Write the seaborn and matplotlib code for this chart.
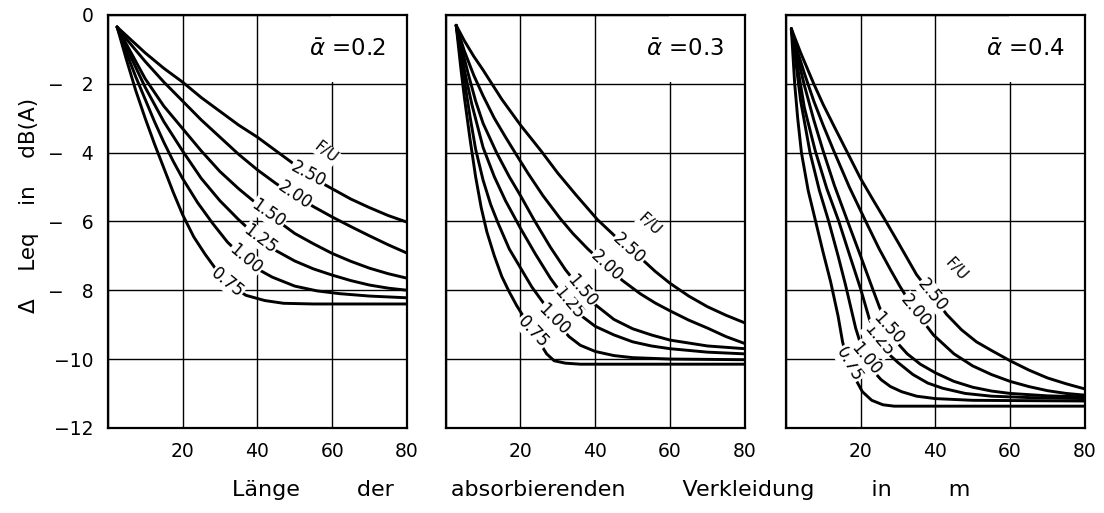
import numpy as np
import pandas as pd
import matplotlib.pyplot as plt
from matplotlib.patches import Rectangle
import seaborn as sns

# === DATA ===
fu_values = ["0.75", "1.00", "1.25", "1.50", "2.00", "2.50"]
alpha_values = ["0.2", "0.3", "0.4"]

# alpha = 0.2
curves_a02 = {
    "0.75": ([2.5, 5, 7.5, 10, 12.5, 15, 17.5, 20, 23, 26, 30, 33, 37, 42, 47, 55, 80],
             [-0.35, -1.3, -2.2, -3.0, -3.75, -4.45, -5.15, -5.8, -6.45, -6.95, -7.55, -7.88, -8.15, -8.3, -8.38, -8.4, -8.4]),
    "1.00": ([2.5, 5, 7.5, 10, 12.5, 15, 17.5, 20, 24, 28, 32, 36, 40, 44, 50, 56, 62, 70, 80],
             [-0.35, -1.1, -1.8, -2.45, -3.1, -3.7, -4.25, -4.75, -5.45, -6.05, -6.6, -7.02, -7.38, -7.62, -7.88, -8.02, -8.1, -8.17, -8.22]),
    "1.25": ([2.5, 5, 10, 15, 20, 25, 30, 35, 40, 45, 50, 55, 60, 65, 70, 75, 80],
             [-0.35, -0.95, -2.1, -3.1, -3.95, -4.75, -5.4, -5.95, -6.45, -6.85, -7.15, -7.38, -7.56, -7.72, -7.85, -7.94, -8.0]),
    "1.50": ([2.5, 5, 10, 15, 20, 25, 30, 35, 40, 45, 50, 55, 60, 65, 70, 75, 80],
             [-0.35, -0.85, -1.85, -2.65, -3.3, -3.95, -4.55, -5.05, -5.5, -5.95, -6.35, -6.65, -6.93, -7.16, -7.36, -7.52, -7.65]),
    "2.00": ([2.5, 5, 10, 15, 20, 25, 30, 35, 40, 45, 50, 55, 60, 65, 70, 75, 80],
             [-0.35, -0.7, -1.35, -1.95, -2.5, -3.05, -3.55, -4.05, -4.5, -4.9, -5.25, -5.57, -5.87, -6.15, -6.42, -6.68, -6.92]),
    "2.50": ([2.5, 5, 10, 15, 20, 25, 30, 35, 40, 45, 50, 55, 60, 65, 70, 75, 80],
             [-0.35, -0.6, -1.1, -1.55, -1.95, -2.4, -2.8, -3.2, -3.55, -3.95, -4.35, -4.75, -5.05, -5.35, -5.6, -5.83, -6.02]),
}

# alpha = 0.3
curves_a03 = {
    "0.75": ([2.8, 4, 5, 6.5, 8, 9.5, 11, 13, 15, 17, 19, 21, 23, 25, 27, 29, 32, 36, 80],
             [-0.3, -1.5, -2.4, -3.6, -4.7, -5.6, -6.3, -7.0, -7.6, -8.05, -8.45, -8.8, -9.15, -9.5, -9.85, -10.05, -10.12, -10.15, -10.15]),
    "1.00": ([2.8, 4, 5, 6.5, 8, 10, 12, 14, 17, 20, 23, 26, 29, 33, 36, 40, 45, 50, 60, 80],
             [-0.3, -1.2, -1.9, -2.95, -3.9, -4.8, -5.5, -6.05, -6.8, -7.35, -7.9, -8.35, -8.85, -9.35, -9.6, -9.78, -9.9, -9.96, -10.0, -10.02]),
    "1.25": ([2.8, 4, 5, 7, 10, 13, 16, 20, 24, 28, 32, 36, 40, 45, 50, 55, 60, 70, 80],
             [-0.3, -1.0, -1.6, -2.6, -3.85, -4.7, -5.4, -6.2, -6.95, -7.65, -8.25, -8.72, -9.05, -9.3, -9.5, -9.62, -9.7, -9.8, -9.85]),
    "1.50": ([2.8, 4, 6, 8, 10, 13.6, 17, 20, 23.6, 28, 32, 36, 40, 45, 50, 55, 60, 70, 80],
             [-0.3, -0.85, -1.7, -2.5, -3.15, -4.0, -4.7, -5.25, -5.95, -6.75, -7.4, -7.95, -8.42, -8.85, -9.12, -9.3, -9.45, -9.62, -9.7]),
    "2.00": ([2.8, 5, 7.5, 10, 13, 16, 19, 22, 26, 30.5, 34, 38, 43, 47.3, 52, 56, 60, 65, 70, 75, 80],
             [-0.3, -1.05, -1.75, -2.35, -3.0, -3.55, -4.08, -4.6, -5.25, -5.9, -6.35, -6.8, -7.3, -7.72, -8.1, -8.37, -8.6, -8.87, -9.1, -9.35, -9.55]),
    "2.50": ([2.8, 5, 7.5, 10, 15, 20, 25.5, 30, 35, 40.6, 45, 49, 53.3, 56, 60, 65, 70, 75, 80],
             [-0.3, -0.75, -1.2, -1.6, -2.45, -3.2, -3.95, -4.6, -5.25, -5.95, -6.4, -6.8, -7.18, -7.45, -7.8, -8.17, -8.48, -8.73, -8.95]),
}

# alpha = 0.4
curves_a04 = {
    "0.75": ([1.5, 2.4, 3.2, 4.2, 6, 8, 10, 12, 14, 15.2, 16.5, 18.5, 20.5, 23, 26, 29, 80],
             [-0.4, -2.0, -3.0, -4.0, -5.1, -6.0, -6.9, -7.75, -8.75, -9.5, -10.05, -10.55, -10.95, -11.2, -11.33, -11.37, -11.37]),
    "1.00": ([1.5, 2.5, 4, 6.5, 9, 11.5, 14, 16, 18.7, 21, 23, 25.5, 28, 31, 35, 40, 50, 80],
             [-0.4, -1.2, -2.5, -4.0, -5.1, -6.0, -7.0, -7.85, -9.1, -9.9, -10.3, -10.6, -10.8, -10.95, -11.08, -11.15, -11.2, -11.22]),
    "1.25": ([1.5, 3, 5, 7.9, 11, 14.2, 17, 20, 22.4, 25, 27.5, 30, 34, 38, 42, 48, 55, 65, 80],
             [-0.4, -1.4, -2.7, -3.95, -5.05, -6.0, -6.95, -7.95, -8.85, -9.5, -9.85, -10.1, -10.45, -10.7, -10.85, -11.0, -11.08, -11.12, -11.15]),
    "1.50": ([1.5, 3, 5, 7.5, 10, 13, 16.9, 20, 23.2, 25.1, 27.5, 30, 32.5, 36, 40, 45, 50, 55, 60, 70, 80],
             [-0.4, -1.15, -2.05, -3.05, -3.95, -4.95, -6.1, -7.0, -7.95, -8.5, -9.1, -9.55, -9.85, -10.15, -10.4, -10.65, -10.82, -10.93, -11.0, -11.07, -11.1]),
    "2.00": ([1.5, 3, 5, 7.5, 10, 12.85, 17, 21.4, 25, 28, 30.5, 34.6, 39.5, 45, 50, 55, 60, 65, 70, 75, 80],
             [-0.4, -1.0, -1.7, -2.5, -3.2, -3.95, -5.0, -6.0, -6.8, -7.4, -7.88, -8.6, -9.3, -9.85, -10.2, -10.45, -10.65, -10.8, -10.92, -11.0, -11.05]),
    "2.50": ([1.5, 4, 7.5, 10, 13, 16.5, 20, 23.5, 26.8, 30, 35, 39.3, 43, 47, 51, 55, 60, 65, 70, 75, 80],
             [-0.4, -1.1, -2.0, -2.6, -3.25, -4.0, -4.75, -5.4, -6.0, -6.6, -7.55, -8.15, -8.7, -9.15, -9.5, -9.75, -10.05, -10.32, -10.55, -10.72, -10.87]),
}

# label placement along the curves (x position on curve, rotation)
label_x = {
    "0.2": [32, 36.9, 40.8, 43, 50, 53.6],
    "0.3": [23.3, 29, 33, 36.5, 43, 49],
    "0.4": [16.9, 21.5, 24.8, 27.5, 34.6, 39.3],
}
label_rot = {
    "0.2": [-39, -40, -37, -35, -34, -28],
    "0.3": [-47, -45, -50, -50, -43, -42],
    "0.4": [-60, -50, -50, -48, -50, -51],
}
fu_pos = {"0.2": (58.4, -4.0, -38), "0.3": (54.5, -6.1, -43), "0.4": (45.5, -7.4, -47)}

# === BUILD LONG TABLE ===
rows = []
for a, curves in zip(alpha_values, [curves_a02, curves_a03, curves_a04]):
    for fu in fu_values:
        xs, ys = curves[fu]
        for i, (x, y) in enumerate(zip(xs, ys)):
            rows.append({"alpha": a, "fu": fu, "x": x, "y": y, "i": i})
df = pd.DataFrame(rows)

# === PLOT ===
sns.set_theme(style="white")
plt.rcParams['font.family'] = ['DejaVu Sans']
plt.rcParams['mathtext.fontset'] = 'dejavusans'
plt.rcParams['text.color'] = 'black'
plt.rcParams['xtick.color'] = 'black'
plt.rcParams['ytick.color'] = 'black'

fig = plt.figure(figsize=(11.04, 5.13), dpi=100)
lefts = [0.0976, 0.4037, 0.7117]
width = 0.271
axes = [fig.add_axes([l, 0.166, width, 0.8048]) for l in lefts]

for k, (ax, a) in enumerate(zip(axes, alpha_values)):
    sub = df[df["alpha"] == a]
    sns.lineplot(data=sub, x="x", y="y", hue="fu", palette={f: "black" for f in fu_values},
                 estimator=None, sort=False, legend=False, lw=2.1, ax=ax, zorder=2)

    ax.set_xlim(0, 80)
    ax.set_ylim(-12, 0)
    ax.set_xticks([0, 20, 40, 60, 80])
    ax.set_xticklabels(["", "20", "40", "60", "80"], fontsize=13.5)
    ax.set_yticks([0, -2, -4, -6, -8, -10, -12])
    if k == 0:
        ax.set_yticklabels(["0", "\u2212   2", "\u2212   4", "\u2212   6", "\u2212   8", "\u221210", "\u221212"],
                           fontsize=13.5)
    else:
        ax.set_yticklabels([])
    ax.tick_params(length=0, pad=10)
    ax.set_axisbelow(True)
    ax.grid(True, color="black", lw=1.0)
    for s in ax.spines.values():
        s.set_color("black")
        s.set_linewidth(1.6)
    ax.set_xlabel("")
    ax.set_ylabel("")

    # blank corner behind the alpha label
    ax.add_patch(Rectangle((0.745, 5 / 6 + 0.004), 0.255, 1 / 6, transform=ax.transAxes,
                           facecolor="white", edgecolor="none", zorder=1))
    ax.text(64, -1.0, r"$\bar{\alpha}$" + f" ={a}", fontsize=16.5, ha="center", va="center", zorder=4)

    curves = [curves_a02, curves_a03, curves_a04][k]
    for fu, lx, rot in zip(fu_values, label_x[a], label_rot[a]):
        xs, ys = curves[fu]
        ly = np.interp(lx, xs, ys)
        ax.text(lx, ly, fu, fontsize=12, rotation=rot, rotation_mode="anchor",
                ha="center", va="center", zorder=4,
                bbox=dict(facecolor="white", edgecolor="none", pad=0.5))
    fx, fy, frot = fu_pos[a]
    ax.text(fx, fy, "F/U", fontsize=11, rotation=frot, rotation_mode="anchor",
            ha="center", va="center", zorder=4,
            bbox=dict(facecolor="white", edgecolor="none", pad=0.5))

fig.text(0.545, 0.045, "Länge        der        absorbierenden        Verkleidung        in        m",
         fontsize=16, ha="center", va="center")
fig.text(0.026, 0.60, "\u0394    Leq    in    dB(A)", fontsize=15.5, rotation=90,
         ha="center", va="center")

fig.savefig("out.png", dpi=100)
